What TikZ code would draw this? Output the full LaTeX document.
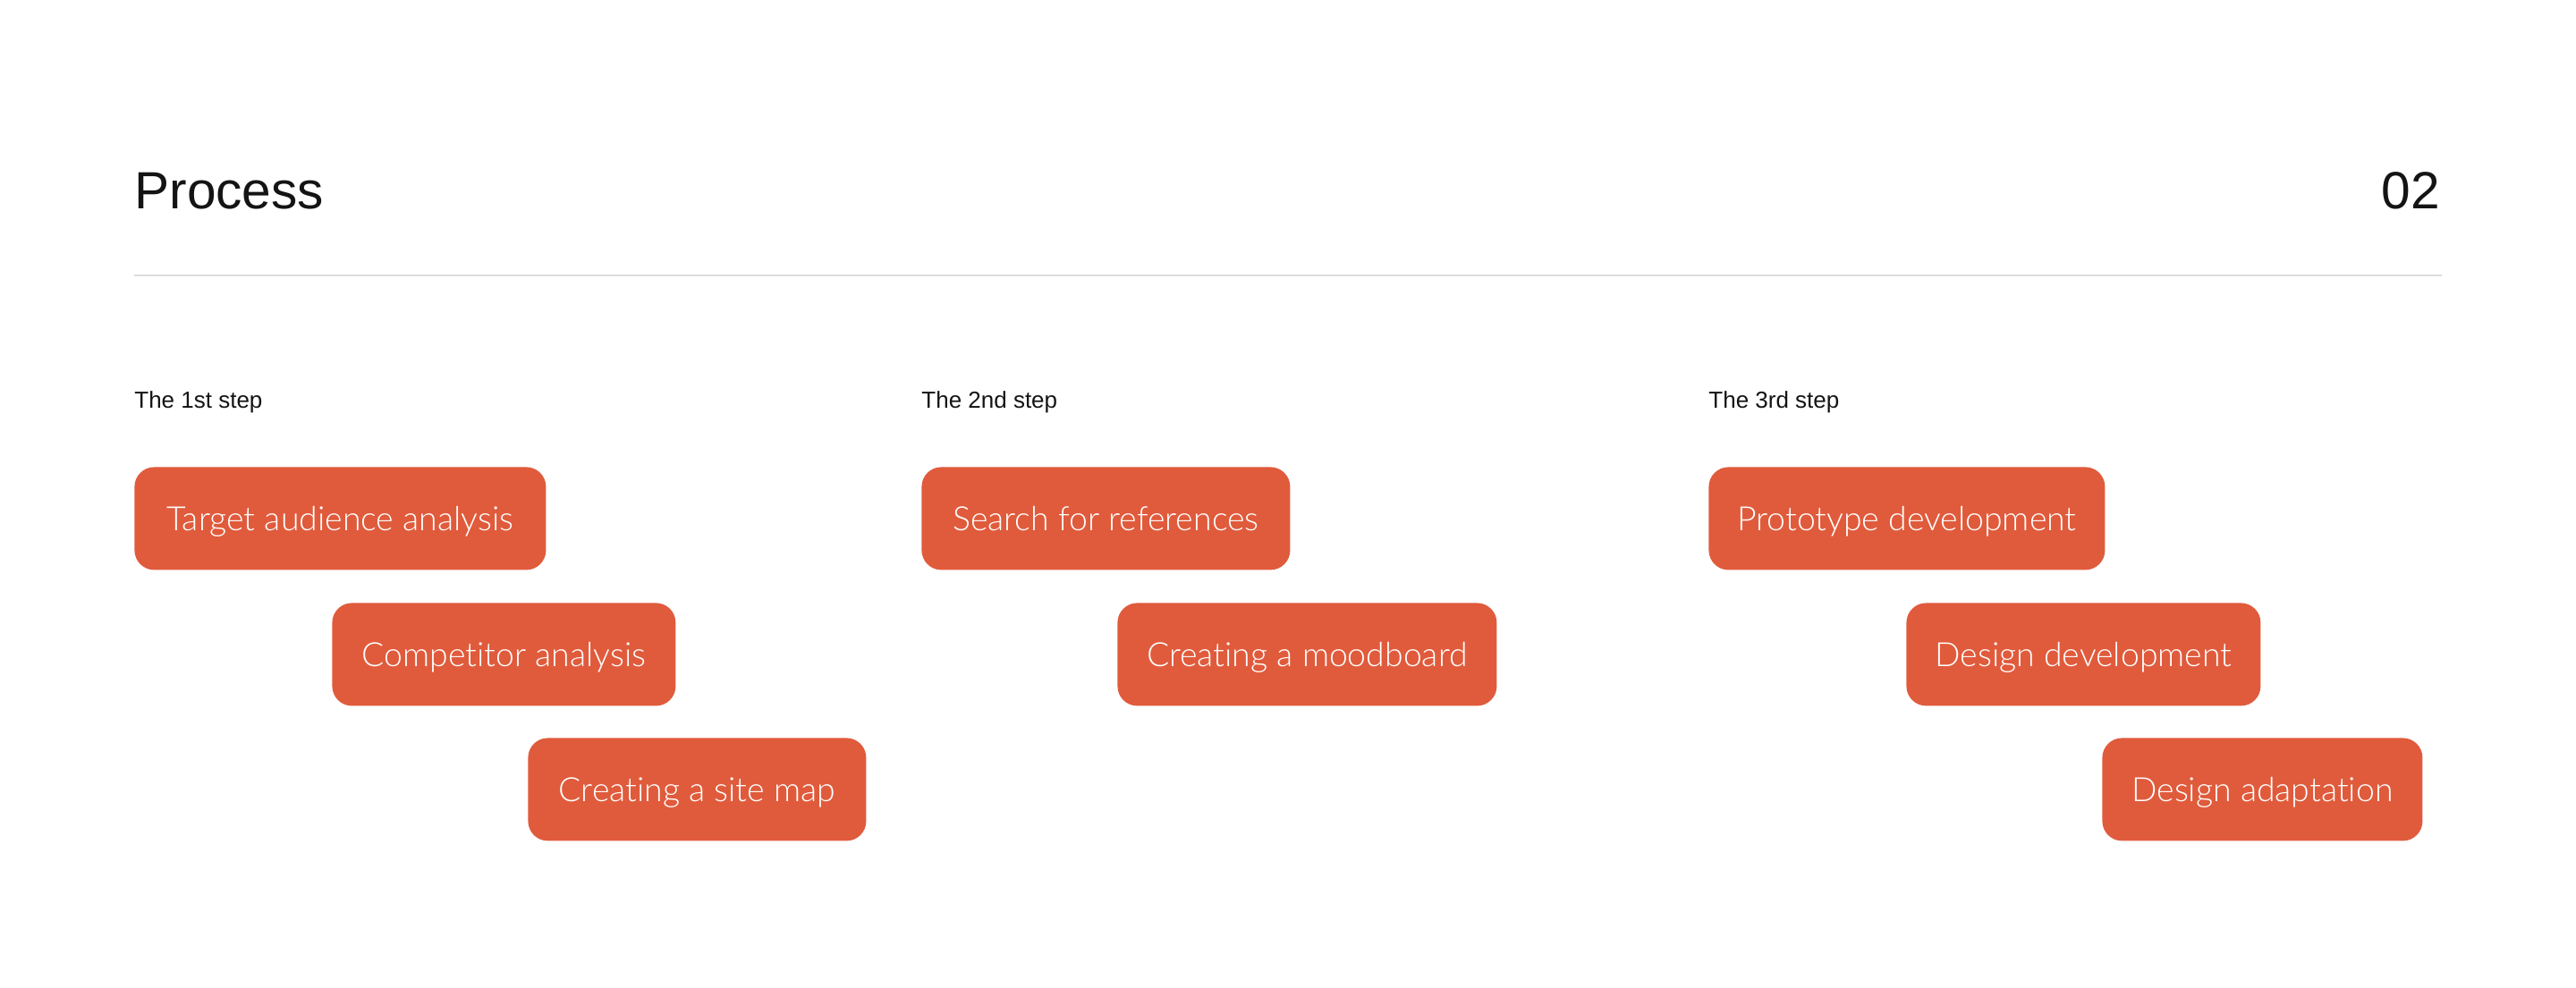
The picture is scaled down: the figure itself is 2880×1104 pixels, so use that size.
\documentclass[tikz,border=0pt]{standalone}
\usepackage{fontspec}
\setmainfont{Liberation Sans}
\newfontfamily\boxfont[Ligatures={NoCommon,NoRare}]{Lato Light}
\definecolor{boxred}{HTML}{E05B3C}
\definecolor{ink}{HTML}{141414}
\definecolor{rule}{HTML}{DCDCDC}
\begin{document}
\begin{tikzpicture}[x=0.5pt,y=-0.5pt,
  stepbox/.style={fill=boxred, rounded corners=11pt, minimum height=57.5pt, inner sep=0pt,
    text height=13.5pt, text depth=0pt,
    text=white, font=\boxfont\fontsize{18.7}{22}\selectfont, anchor=north west},
  steplabel/.style={anchor=base west, inner sep=0pt, text=ink, font=\fontsize{13}{15}\selectfont},
  titletext/.style={inner sep=0pt, text=ink, font=\fontsize{29.3}{34}\selectfont}]
\useasboundingbox[fill=white] (0,0) rectangle (2880,1104);
\node[titletext, anchor=base west] (title) at (150,233) {Process};
\node[titletext, anchor=base east] (num) at (2728,233) {02};
\coordinate (ruleL) at (150,308);
\coordinate (ruleR) at (2730,308);
\draw[rule, line width=1.2pt] (ruleL) -- (ruleR);
\node[steplabel] (l1) at (150,456) {The 1st step};
\node[steplabel] (l2) at (1030,456) {The 2nd step};
\node[steplabel] (l3) at (1910,456) {The 3rd step};
\node[stepbox, minimum width=230pt] (a1) at (150,522) {Target audience analysis};
\node[stepbox, minimum width=192pt] (a2) at (371,674) {Competitor analysis};
\node[stepbox, minimum width=189pt] (a3) at (590,825) {Creating a site map};
\node[stepbox, minimum width=206pt] (b1) at (1030,522) {Search for references};
\node[stepbox, minimum width=212pt] (b2) at (1249,674) {Creating a moodboard};
\node[stepbox, minimum width=221.5pt] (c1) at (1910,522) {Prototype development};
\node[stepbox, minimum width=198pt] (c2) at (2131,674) {Design development};
\node[stepbox, minimum width=179pt] (c3) at (2350,825) {Design adaptation};
\end{tikzpicture}
\end{document}
